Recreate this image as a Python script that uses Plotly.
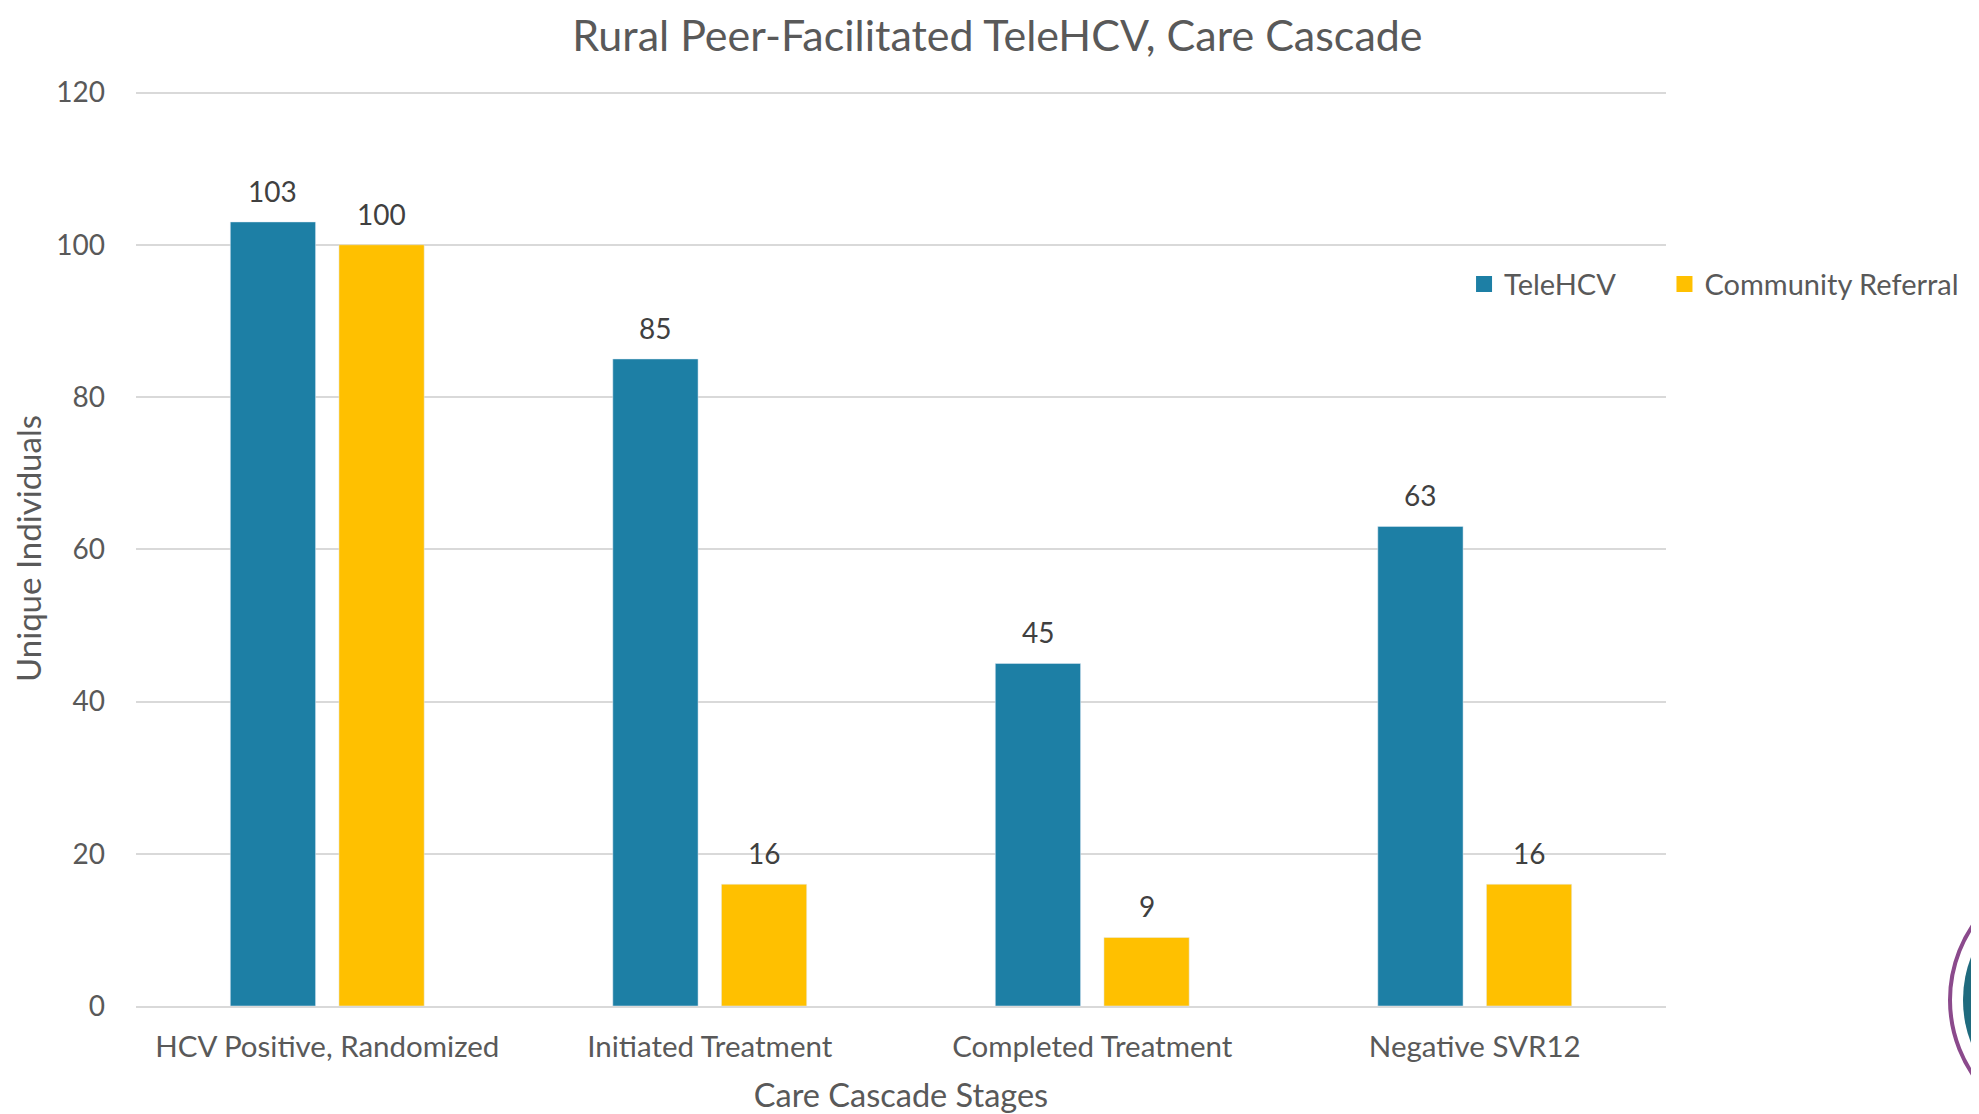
import plotly.graph_objects as go

categories = ["HCV Positive, Randomized", "Initiated Treatment", "Completed Treatment", "Negative SVR12"]
telehcv = [103, 85, 45, 63]
community = [100, 16, 9, 16]
y_ticks = [0, 20, 40, 60, 80, 100, 120]
series = [("TeleHCV", telehcv), ("Community Referral", community)]

FONT = "Lato"
TEAL = "#1D7FA5"
GOLD = "#FFC000"
GRAY = "#595959"
LABEL = "#404040"
colors = [TEAL, GOLD]

# figure is drawn at an 8px page offset (body margin); sizes are in figure pixels
W, H = 1971, 1106
ML, MR, MT, MB = 128, 313, 83, 108
PLOT_W = W - ML - MR
BARGAP = 0.432
BARGROUPGAP = 0.215
slot = PLOT_W / len(categories) * (1 - BARGAP) / 2

legend_ids = ["legend", "legend2"]
legend_x = [0.868, 0.999]

fig = go.Figure()
for (name, vals), col, lid in zip(series, colors, legend_ids):
    fig.add_trace(go.Bar(name=name, x=categories, y=vals, marker_color=col, showlegend=False))
    # legend entries with larger square swatches
    fig.add_trace(go.Scatter(name=name, x=[None], y=[None], mode="markers", legend=lid,
                             marker=dict(symbol="square", size=16, color=col), showlegend=True))

# data labels above bars
annotations = []
for k, ((name, vals), col) in enumerate(zip(series, colors)):
    shift = (k - 0.5) * slot
    for cat, v in zip(categories, vals):
        annotations.append(dict(x=cat, y=v, text=str(v), showarrow=False, xshift=shift,
                                yanchor="bottom", yshift=12,
                                font=dict(family=FONT, size=28, color=LABEL)))

legend_style = dict(orientation="h", xanchor="left", y=0.789, yanchor="middle",
                    font=dict(family=FONT, size=29, color=GRAY), bgcolor="rgba(0,0,0,0)",
                    itemwidth=30)

fig.update_layout(
    width=W, height=H,
    margin=dict(l=ML, r=MR, t=MT, b=MB, autoexpand=False),
    paper_bgcolor="white", plot_bgcolor="white",
    barmode="group", bargap=BARGAP, bargroupgap=BARGROUPGAP,
    title=dict(text="Rural Peer-Facilitated TeleHCV, Care Cascade", x=0.502, xanchor="center",
               y=1 - 28 / H, yanchor="middle",
               font=dict(family=FONT, size=43, color=GRAY)),
    font=dict(family=FONT, color=GRAY),
    legend=dict(x=legend_x[0], **legend_style),
    legend2=dict(x=legend_x[1], **legend_style),
    showlegend=True,
    annotations=annotations,
)
fig.update_xaxes(showline=True, linecolor="#D9D9D9", linewidth=2, ticks="",
                 tickfont=dict(family=FONT, size=29.5, color=GRAY), ticklabelstandoff=14,
                 title=dict(text="Care Cascade Stages", font=dict(family=FONT, size=32.5, color=GRAY), standoff=22))
fig.update_yaxes(range=[0, 120.2], tickvals=y_ticks, showgrid=True, gridcolor="#D9D9D9", gridwidth=2,
                 zeroline=False, showline=False, ticks="",
                 tickfont=dict(family=FONT, size=28, color=GRAY), ticklabelstandoff=30,
                 title=dict(text="Unique Individuals", font=dict(family=FONT, size=33, color=GRAY), standoff=15))

# decorative logo fragment at bottom-right (partly outside the page)
PH = H - MT - MB
def px_x(v):
    return (v - ML) / PLOT_W
def px_y(v):
    return (H - MB - v) / PH
cx, cy = 2075, 992
fig.add_shape(type="circle", xref="paper", yref="paper",
              x0=px_x(cx - 133), x1=px_x(cx + 133), y0=px_y(cy + 133), y1=px_y(cy - 133),
              line=dict(color="#8B4A8C", width=4), fillcolor="white", layer="above")
fig.add_shape(type="circle", xref="paper", yref="paper",
              x0=px_x(cx - 120), x1=px_x(cx + 120), y0=px_y(cy + 120), y1=px_y(cy - 120),
              line=dict(width=0), fillcolor="#1F6B7E", layer="above")

fig.write_html("out.html")
